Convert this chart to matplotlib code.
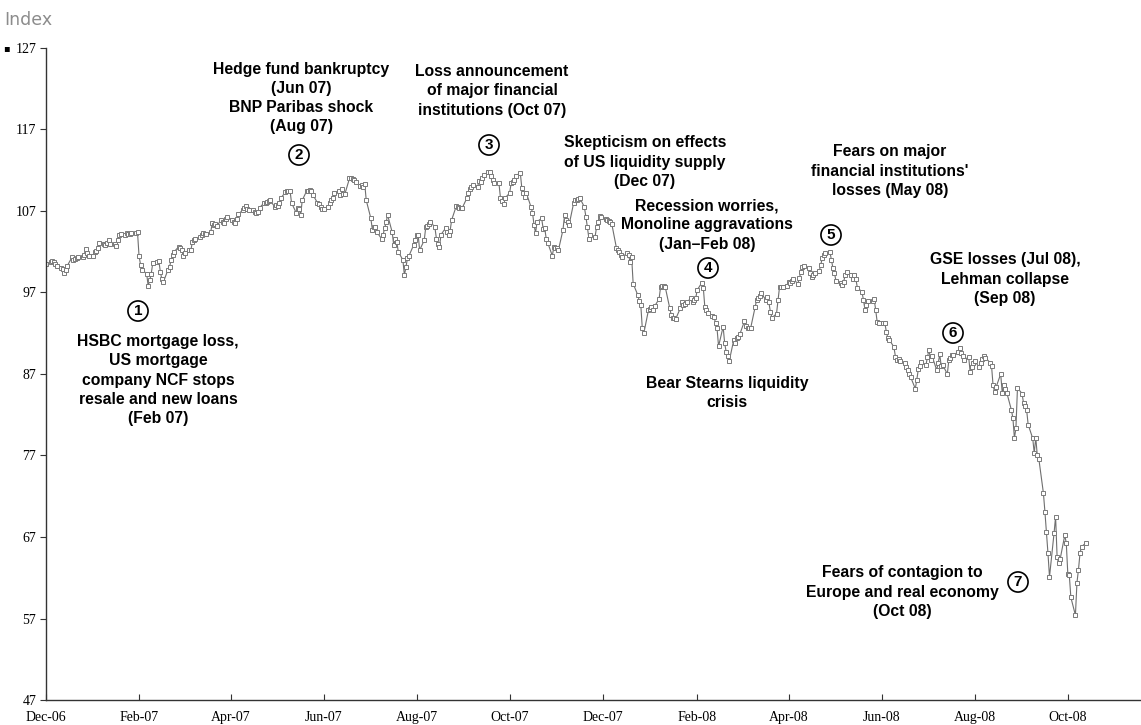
#!/usr/bin/env python3
"""Stock index path Dec-06 .. Nov-08 with the crisis events annotated."""
import matplotlib

matplotlib.use("Agg")
import matplotlib.pyplot as plt
import pandas as pd

W, H = 1141, 725

START = "2006-12-29"
# one value per business day (Dec 29 2006 .. Nov 10 2008)
VALUES = [
    100.5,
    100.7, 100.9, 100.8, 100.5, 100.2,  100.0, 99.9, 99.4, 99.7, 100.3,
    101.3, 101.0, 101.1, 101.2, 101.3,  101.3, 101.6, 102.3, 101.8, 101.5,
    101.5, 102.0, 102.1, 102.4, 103.1,  103.0, 102.8, 103.1, 103.4, 103.0,
    102.9, 102.7, 103.4, 104.1, 104.2,  104.1, 104.3, 104.2, 104.2, 104.3,
    104.3, 104.4, 101.5, 100.4, 99.8,   99.3, 97.8, 98.5, 99.3, 100.6,
    100.7, 100.9, 99.5, 98.6, 98.3,     99.8, 100.1, 101.0, 101.6, 102.0,
    102.6, 102.4, 102.2, 101.5, 101.8,  102.2, 102.2, 103.2, 103.4, 103.6,
    103.8, 104.1, 104.3, 104.2, 104.2,  104.4, 105.5, 105.3, 105.4, 105.2,
    105.9, 105.7, 105.5, 106.0, 106.3,  105.9, 105.7, 105.5, 106.0, 106.6,
    107.1, 107.4, 107.6, 107.3, 107.1,  107.1, 106.9, 106.8, 106.9, 107.4,
    108.0, 108.0, 108.1, 108.2, 108.3,  107.5, 107.7, 107.6, 108.0, 108.6,
    109.3, 109.4, 109.5, 109.5, 108.0,  106.8, 107.4, 107.2, 106.5, 108.3,
    109.5, 109.5, 109.6, 109.5, 109.0,  108.0, 107.8, 107.5, 107.3, 107.2,
    107.5, 108.0, 108.3, 108.6, 109.2,  109.5, 109.0, 109.7, 109.1, 109.1,
    111.0, 111.0, 110.9, 110.8, 110.6,  110.1, 110.2, 110.0, 110.3, 108.3,
    106.1, 104.7, 105.0, 105.0, 104.4,  103.6, 104.0, 104.9, 105.6, 106.5,
    104.4, 102.8, 103.6, 103.2, 102.0,  101.0, 99.1, 100.1, 101.2, 101.5,
    102.8, 103.4, 104.1, 104.1, 102.2,  103.4, 105.0, 105.1, 105.4, 105.7,
    105.0, 103.6, 103.0, 102.6, 104.1,  104.9, 104.4, 104.1, 104.6, 105.9,
    107.6, 107.5, 107.4, 107.4, 107.4,  108.6, 109.2, 109.7, 110.0, 110.2,
    110.0, 110.7, 110.6, 111.0, 111.4,  111.8, 111.8, 111.3, 110.8, 110.4,
    110.4, 108.6, 108.2, 107.9, 108.6,  109.2, 110.4, 110.6, 110.8, 111.3,
    111.7, 109.8, 109.2, 108.7, 109.2,  107.5, 106.8, 105.3, 104.3, 105.7,
    106.1, 104.8, 104.9, 103.6, 103.1,  101.5, 102.6, 102.5, 102.4, 102.2,
    104.7, 106.5, 105.9, 105.6, 105.3,  108.0, 108.3, 108.4, 108.5, 108.6,
    107.5, 106.3, 105.0, 103.6, 104.0,  103.8, 105.0, 105.7, 106.4, 106.3,
    106.0, 105.9, 105.8, 105.6, 105.4,  102.5, 102.2, 102.0, 101.6, 101.4,
    101.8, 101.6, 100.7, 101.4, 98.1,   96.7, 96.0, 95.5, 92.6, 92.0,
    94.8, 95.0, 95.2, 94.8, 95.3,       96.2, 97.7, 97.8, 97.8, 97.7,
    95.1, 94.2, 93.9, 93.9, 93.8,       95.1, 95.8, 95.5, 95.6, 95.8,
    96.3, 95.8, 96.1, 96.3, 97.3,       98.2, 97.6, 95.2, 94.8, 94.5,
    94.1, 94.0, 93.3, 92.6, 90.4,       92.8, 90.8, 89.7, 89.2, 88.6,
    91.2, 90.8, 91.4, 91.6, 91.9,       93.5, 92.9, 92.6, 92.6, 92.6,
    95.2, 96.1, 96.3, 96.6, 96.9,       96.1, 96.4, 95.8, 94.6, 93.9,
    94.4, 96.1, 97.7, 97.7, 97.7,       97.8, 98.3, 98.2, 98.4, 98.6,
    98.1, 98.8, 99.5, 100.1, 100.2,     100.0, 99.4, 98.9, 99.2, 99.4,
    99.6, 100.4, 101.2, 101.6, 101.8,   102.0, 101.0, 100.0, 99.4, 98.4,
    98.2, 97.9, 98.3, 99.1, 99.5,       99.1, 98.7, 99.2, 98.7, 97.6,
    97.1, 96.1, 94.9, 95.5, 96.0,       95.9, 96.2, 94.9, 93.4, 93.3,
    93.3, 93.3, 92.2, 91.4, 91.2,       90.3, 89.1, 88.7, 88.8, 88.6,
    88.3, 87.9, 87.5, 87.0, 86.6,       85.2, 86.3, 87.6, 88.0, 88.5,
    88.1, 89.1, 90.0, 88.7, 89.2,       87.5, 88.3, 89.4, 88.0, 88.1,
    87.0, 88.7, 89.0, 89.3, 89.3,       89.7, 90.2, 89.6, 89.2, 88.7,
    89.1, 87.2, 87.8, 88.3, 88.6,       87.8, 88.3, 88.8, 89.2, 89.0,
    88.4, 88.0, 85.6, 84.8, 85.4,       87.0, 84.7, 85.6, 85.1, 84.7,
    82.6, 81.6, 79.1, 80.4, 85.3,       84.6, 83.4, 83.1, 82.6, 80.8,
    79.1, 77.3, 79.2, 77.0, 76.6,       72.4, 70.1, 67.6, 65.0, 62.1,
    67.5, 69.5, 64.5, 63.8, 64.3,       67.2, 66.3, 62.5, 62.3, 59.6,
    57.4, 61.4, 63.0, 65.0, 65.8,
    66.3,
]

TICK_DATES = ["2006-12-29", "2007-02-28", "2007-04-29", "2007-06-29",
              "2007-08-29", "2007-10-29", "2007-12-29", "2008-02-29",
              "2008-04-29", "2008-06-29", "2008-08-29", "2008-10-29"]
TICK_LABELS = ["Dec-06", "Feb-07", "Apr-07", "Jun-07", "Aug-07", "Oct-07",
               "Dec-07", "Feb-08", "Apr-08", "Jun-08", "Aug-08", "Oct-08"]
Y_TICKS = [47, 57, 67, 77, 87, 97, 107, 117, 127]

# (text, centre x px, centre y px)
NOTES = [
    ("HSBC mortgage loss,\nUS mortgage\ncompany NCF stops\nresale and new loans\n(Feb 07)", 158, 380),
    ("Hedge fund bankruptcy\n(Jun 07)\nBNP Paribas shock\n(Aug 07)", 301, 98),
    ("Loss announcement\nof major financial\ninstitutions (Oct 07)", 492, 91),
    ("Skepticism on effects\nof US liquidity supply\n(Dec 07)", 645, 162),
    ("Recession worries,\nMonoline aggravations\n(Jan\u2013Feb 08)", 707, 225),
    ("Bear Stearns liquidity\ncrisis", 727, 393),
    ("Fears on major\nfinancial institutions'\nlosses (May 08)", 890, 171),
    ("GSE losses (Jul 08),\nLehman collapse\n(Sep 08)", 1005, 279),
    ("Fears of contagion to\nEurope and real economy\n(Oct 08)", 902, 592),
]
# circled event numbers (label, x px, y px)
MARKS = [("1", 138, 311), ("2", 299, 155), ("3", 489, 145), ("4", 708, 268),
         ("5", 831, 235), ("6", 953, 333), ("7", 1018, 582)]


def fig_xy(x, y):
    return x / W, 1 - y / H


def main():
    dates = pd.bdate_range(START, periods=len(VALUES))

    fig = plt.figure(figsize=(W / 100, H / 100), dpi=100)
    ax = fig.add_axes([46 / W, 25 / H, (W - 46) / W, (700 - 48) / H])

    ax.plot(dates, VALUES, color="#6f6f6f", lw=0.8, marker="s", ms=3.4,
            mfc="white", mec="#7a7a7a", mew=0.7)

    ax.set_ylim(47, 127)
    ax.set_xlim(pd.Timestamp(START), pd.Timestamp(START) + pd.Timedelta(days=718))
    ax.set_yticks(Y_TICKS)
    ax.set_xticks(pd.to_datetime(TICK_DATES))
    ax.set_xticklabels(TICK_LABELS)
    for lab in ax.get_xticklabels() + ax.get_yticklabels():
        lab.set_fontfamily("Liberation Serif")
        lab.set_fontsize(10)
    for lab in ax.get_xticklabels():
        lab.set_verticalalignment("baseline")
    ax.tick_params(axis="x", direction="in", length=4, pad=15, color="#333333")
    ax.tick_params(axis="y", direction="out", length=4, pad=3, color="#333333")
    for side in ("top", "right"):
        ax.spines[side].set_visible(False)
    for side in ("left", "bottom"):
        ax.spines[side].set_color("#333333")
        ax.spines[side].set_linewidth(1.0)

    fig.text(*fig_xy(4, 20), "Index", fontsize=12.5, color="#8c8c8c",
             family="DejaVu Sans", va="center", ha="left")
    fig.text(*fig_xy(6, 48), "\u25aa", fontsize=7, va="center", ha="center")

    for text, x, y in NOTES:
        fig.text(*fig_xy(x, y), text, ha="center", va="center",
                 family="Liberation Sans", weight="bold", fontsize=11.3,
                 linespacing=1.35)
    for num, x, y in MARKS:
        fig.text(*fig_xy(x, y), num, ha="center", va="center",
                 family="Liberation Sans", weight="bold", fontsize=11,
                 bbox=dict(boxstyle="circle,pad=0.2", fc="white", ec="black", lw=1.2))

    fig.savefig("out.png", dpi=100)
    plt.close(fig)


if __name__ == "__main__":
    main()
